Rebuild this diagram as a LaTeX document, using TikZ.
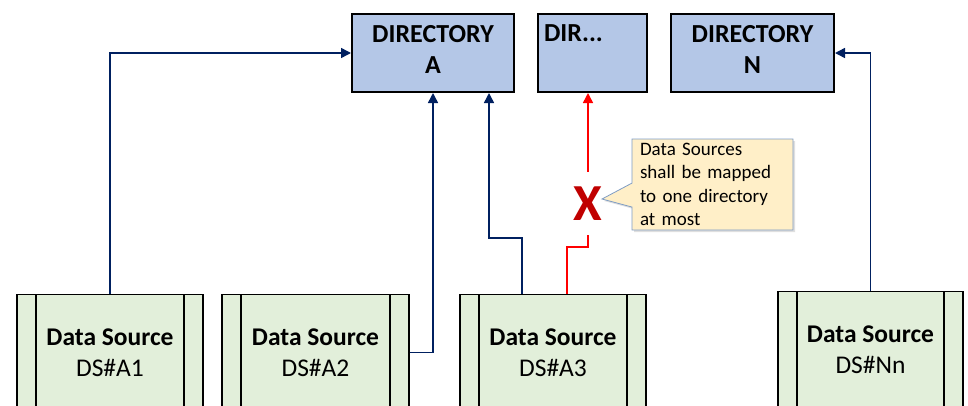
\documentclass[tikz,border=0pt]{standalone}
\usepackage{fontspec}
\setmainfont{Carlito}
\usetikzlibrary{arrows.meta,shapes.callouts,shadows}
\definecolor{navy}{RGB}{0,32,96}
\definecolor{dirfill}{RGB}{180,199,231}
\definecolor{dsfill}{RGB}{226,239,218}
\definecolor{notefill}{RGB}{255,239,200}
\definecolor{noteedge}{RGB}{126,156,196}
\definecolor{xred}{RGB}{192,0,0}
\begin{document}
\begin{tikzpicture}[x=1pt,y=-1pt,
  dirbox/.style={draw=black, line width=2pt, fill=dirfill, minimum width=#1,
    minimum height=78pt, inner sep=0pt, align=center, text depth=8pt,
    font=\fontsize{26pt}{31pt}\selectfont\bfseries},
  dsbox/.style={draw=black, line width=1.2pt, fill=dsfill, minimum width=#1,
    minimum height=116pt, inner sep=0pt, anchor=north, align=center,
    font=\fontsize{25.5pt}{31pt}\selectfont,
    path picture={
      \draw[line width=1.2pt]
        ([xshift=19pt]path picture bounding box.north west) --
        ([xshift=19pt]path picture bounding box.south west)
        ([xshift=-19pt]path picture bounding box.north east) --
        ([xshift=-19pt]path picture bounding box.south east);
    }},
  conn/.style={draw=navy, line width=1.5pt, -{Triangle[length=10pt,width=10pt]}},
  badconn/.style={draw=red, line width=1.5pt},
  note/.style={rectangle callout, draw=noteedge, line width=0.8pt, fill=notefill,
    minimum width=161pt, minimum height=91pt, inner sep=0pt,
    text width=145pt, align=left, callout pointer width=24pt,
    font=\fontsize{19pt}{23.5pt}\selectfont,
    drop shadow={shadow xshift=2pt, shadow yshift=-2pt, opacity=0.25}},
]
\useasboundingbox (0,0) rectangle (968,405);
\clip (0,0) rectangle (968,405);

% directories
\node[dirbox=162pt] (dira) at (433,53) {DIRECTORY\\A};
\node[dirbox=109pt, text width=97pt, align=left, text depth=39pt] (dirdots) at (592.5,53) {DIR...};
\node[dirbox=163pt] (dirn) at (752.5,53) {DIRECTORY\\N};

% data sources
\node[dsbox=186pt] (a1) at (110,294) {{\bfseries Data Source}\\DS\#A1};
\node[dsbox=187pt] (a2) at (315.5,294) {{\bfseries Data Source}\\DS\#A2};
\node[dsbox=186pt] (a3) at (553,294) {{\bfseries Data Source}\\DS\#A3};
\node[dsbox=185pt] (nn) at (870.5,291) {{\bfseries Data Source}\\DS\#Nn};

% valid mappings
\draw[conn] (a1.north) |- (dira.west);
\draw[conn] (a2.east) -| (dira.south);
\coordinate (a3b) at ([xshift=-31pt]a3.north);
\coordinate (a3r) at ([xshift=14pt]a3.north);
\draw[conn] (a3b) -- (a3b |- 0,238) -| ([xshift=56pt]dira.south);
\draw[conn] (nn.north) |- (dirn.east);

% forbidden second mapping
\coordinate (rx) at ([xshift=-4.5pt]dirdots.south);
\node[font=\fontsize{52pt}{52pt}\selectfont\bfseries, text=xred,
  minimum height=63pt, inner sep=0pt] (xmark) at (rx |- 0,203.5) {X};
\draw[badconn] (a3r) -- (a3r |- 0,247) -| (xmark.south);
\draw[badconn, -{Triangle[length=10pt,width=10pt]}] (xmark.north) -- (rx);

% rule note
\node[note, callout absolute pointer={(602,199)}] (rule) at (712.5,184.5)
  {Data Sources\\shall be mapped\\to one directory\\at most};
\end{tikzpicture}
\end{document}
